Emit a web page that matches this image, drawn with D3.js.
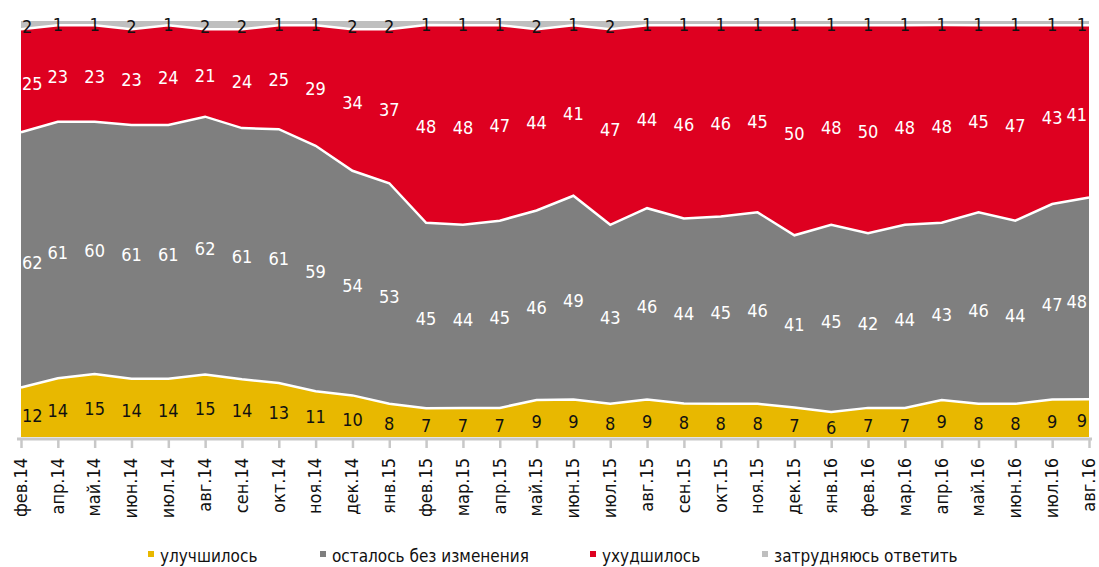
<!DOCTYPE html>
<html>
<head>
<meta charset="utf-8">
<script src="https://cdn.jsdelivr.net/npm/d3@7"></script>
<style>
  body { margin: 0; background: #fff; }
  svg text { font-family: "Liberation Sans Narrow", "DejaVu Sans Condensed", "Open Sans", sans-serif; }
</style>
</head>
<body>
<svg id="chart" width="1099" height="567"></svg>
<script>
const months = ['фев.14', 'апр.14', 'май.14', 'июн.14', 'июл.14', 'авг.14', 'сен.14', 'окт.14',
  'ноя.14', 'дек.14', 'янв.15', 'фев.15', 'мар.15', 'апр.15', 'май.15', 'июн.15', 'июл.15',
  'авг.15', 'сен.15', 'окт.15', 'ноя.15', 'дек.15', 'янв.16', 'фев.16', 'мар.16', 'апр.16',
  'май.16', 'июн.16', 'июл.16', 'авг.16'];

const improved = [12, 14, 15, 14, 14, 15, 14, 13, 11, 10, 8, 7, 7, 7, 9, 9, 8, 9, 8, 8, 8, 7, 6, 7, 7, 9, 8, 8, 9, 9];
const unchanged = [62, 61, 60, 61, 61, 62, 61, 61, 59, 54, 53, 45, 44, 45, 46, 49, 43, 46, 44, 45, 46, 41, 45, 42, 44, 43, 46, 44, 47, 48];
const worse = [25, 23, 23, 23, 24, 21, 24, 25, 29, 34, 37, 48, 48, 47, 44, 41, 47, 44, 46, 46, 45, 50, 48, 50, 48, 48, 45, 47, 43, 41];
const hard = [2, 1, 1, 2, 1, 2, 2, 1, 1, 2, 2, 1, 1, 1, 2, 1, 2, 1, 1, 1, 1, 1, 1, 1, 1, 1, 1, 1, 1, 1];

const seriesNames = ['улучшилось', 'осталось без изменения', 'ухудшилось', 'затрудняюсь ответить'];
const keys = ['improved', 'unchanged', 'worse', 'hard'];
const colors = ['#e8b800', '#7f7f7f', '#de0020', '#bfbfbf'];
const labelColors = ['#111', '#fff', '#fff', '#111'];

const rows = months.map((m, i) => ({
  month: m, improved: improved[i], unchanged: unchanged[i], worse: worse[i], hard: hard[i]
}));

const svg = d3.select('#chart');
const margin = {top: 21, bottom: 437, left: 21, right: 1089};

const x = d3.scalePoint().domain(months).range([margin.left, margin.right]);
const y = d3.scaleLinear().domain([0, 1]).range([margin.bottom, margin.top]);

const stack = d3.stack().keys(keys).offset(d3.stackOffsetExpand);
const layers = stack(rows);

const area = d3.area()
  .x((d) => x(d.data.month))
  .y0((d) => y(d[0]))
  .y1((d) => y(d[1]));

svg.selectAll('.layer')
  .data(layers)
  .join('path')
  .attr('class', 'layer')
  .attr('d', area)
  .attr('fill', (d, i) => colors[i]);

// white separators along the top of the lower bands
const line = d3.line()
  .x((d) => x(d.data.month))
  .y((d) => y(d[1]));

svg.selectAll('.sep')
  .data(layers.slice(0, 3))
  .join('path')
  .attr('class', 'sep')
  .attr('d', line)
  .attr('fill', 'none')
  .attr('stroke', '#fff')
  .attr('stroke-width', 2.5);

// axis
const xAxis = d3.axisBottom(x).tickSize(9).tickSizeOuter(0).tickPadding(0);
const gx = svg.append('g')
  .attr('transform', `translate(0,${margin.bottom + 2})`)
  .call(xAxis);
gx.select('.domain')
  .attr('d', `M${margin.left - 4},0H${margin.right + 3}`)
  .attr('stroke', '#c8c8c8')
  .attr('stroke-width', 3);
gx.selectAll('.tick line').attr('stroke', '#c8c8c8').attr('stroke-width', 2.5);
gx.selectAll('.tick text')
  .attr('fill', '#111')
  .attr('font-size', 18)
  .attr('transform', 'translate(-1,19) rotate(-90)')
  .attr('x', 0)
  .attr('y', 0)
  .attr('dy', '0.35em')
  .style('text-anchor', 'end');

// data labels, kept inside the plot at both ends
const last = months.length - 1;
const anchor = (i) => (i === 0 ? 'start' : i === last ? 'end' : 'middle');
const labelX = (d, i) => (i === 0 ? margin.left + 1 : i === last ? margin.right - 2 : x(d.data.month));

layers.forEach((layer, k) => {
  svg.append('g')
    .selectAll('text')
    .data(layer)
    .join('text')
    .attr('x', labelX)
    .attr('y', (d) => y((d[0] + d[1]) / 2) + (k === 3 ? 2 : 3))
    .attr('dy', '0.35em')
    .attr('text-anchor', (d, i) => anchor(i))
    .attr('font-size', 18)
    .attr('fill', labelColors[k])
    .text((d) => d.data[keys[k]]);
});

// legend
const legendX = [148, 320, 590, 762];
const legend = svg.append('g');
seriesNames.forEach((name, i) => {
  legend.append('rect')
    .attr('x', legendX[i])
    .attr('y', 551)
    .attr('width', 6)
    .attr('height', 6)
    .attr('fill', colors[i]);
  legend.append('text')
    .attr('x', legendX[i] + 12)
    .attr('y', 562)
    .attr('font-size', 17)
    .attr('fill', '#111')
    .text(name);
});
</script>
</body>
</html>
